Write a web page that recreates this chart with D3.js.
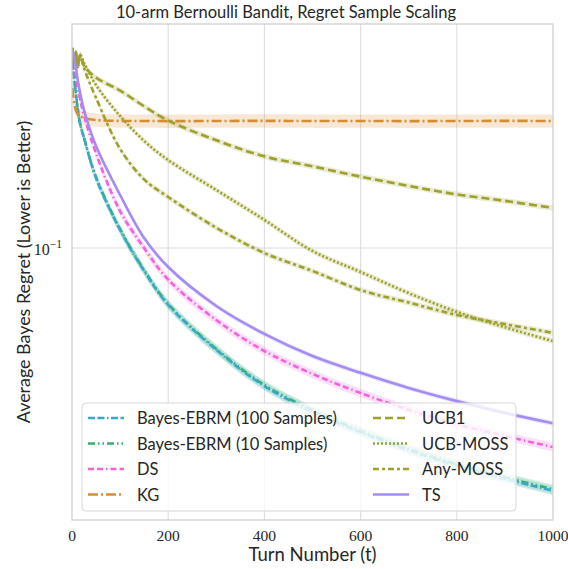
<!DOCTYPE html>
<html>
<head>
<meta charset="utf-8">
<script src="https://cdn.jsdelivr.net/npm/d3@7"></script>
<style>
  body { margin: 0; background: #fff; }
  svg { display: block; }
  .sans { font-family: Lato, "Open Sans", sans-serif; fill: #262626; }
  .serif { font-family: "Liberation Serif", "DejaVu Serif", serif; fill: #262626; }
</style>
</head>
<body>
<svg id="chart"></svg>
<script>
const turns = [1, 4, 8, 12, 17, 25, 50, 100, 150, 200, 300, 400, 500, 600, 700, 800, 900, 1000];

const ebrm100 = [0.372, 0.335, 0.299, 0.267, 0.240, 0.2175, 0.1639, 0.1136, 0.0850, 0.0669, 0.0487, 0.0377, 0.0315, 0.0272, 0.0240, 0.0215, 0.0196, 0.0180];
const ebrm10  = [0.370, 0.333, 0.298, 0.266, 0.240, 0.218, 0.165, 0.1142, 0.0855, 0.0673, 0.0490, 0.0380, 0.0318, 0.0275, 0.0242, 0.0217, 0.0198, 0.0182];
const ds      = [0.405, 0.372, 0.337, 0.3096, 0.2844, 0.2549, 0.1949, 0.1298, 0.100, 0.0800, 0.0601, 0.0483, 0.0411, 0.0359, 0.0319, 0.0288, 0.0265, 0.0245];
const kg      = [0.3096, 0.2805, 0.265, 0.2576, 0.2536, 0.2504, 0.2469, 0.2453, 0.2453, 0.2450, 0.2452, 0.2455, 0.2451, 0.2453, 0.2450, 0.2452, 0.2454, 0.2452];
const ucb1    = [0.411, 0.367, 0.399, 0.359, 0.391, 0.362, 0.333, 0.304, 0.272, 0.246, 0.214, 0.191, 0.178, 0.1655, 0.155, 0.146, 0.1395, 0.1327];
const ucbMoss = [0.411, 0.367, 0.399, 0.359, 0.391, 0.370, 0.316, 0.254, 0.213, 0.186, 0.1506, 0.1219, 0.0979, 0.0844, 0.0727, 0.0637, 0.0571, 0.0518];
const anyMoss = [0.411, 0.367, 0.399, 0.359, 0.391, 0.356, 0.2885, 0.2014, 0.1623, 0.1433, 0.1154, 0.0965, 0.0850, 0.0743, 0.0680, 0.0623, 0.0584, 0.0549];
const ts      = [0.405, 0.3855, 0.359, 0.3275, 0.2988, 0.265, 0.2055, 0.1454, 0.1073, 0.0874, 0.0664, 0.0545, 0.0466, 0.0414, 0.0372, 0.0339, 0.0312, 0.0290];

const xTicks = [0, 200, 400, 600, 800, 1000];
const yTicks = [0.1];

const series = [
  { name: "Bayes-EBRM (100 Samples)", values: ebrm100, color: "#38a9c5", dash: "7,2.5,7,2.5,1.5,2.5", spread: 0.032 },
  { name: "Bayes-EBRM (10 Samples)",  values: ebrm10,  color: "#33b070", dash: "7,3,1.5,3,1.5,3",      spread: 0.032 },
  { name: "DS",                       values: ds,      color: "#f561dd", dash: "6,3,6,3,1.5,3",        spread: 0.03 },
  { name: "KG",                       values: kg,      color: "#d58c32", dash: "10,3,2,3",             spread: 0.047 },
  { name: "UCB1",                     values: ucb1,    color: "#9da02c", dash: "8,4",                  spread: 0.02 },
  { name: "UCB-MOSS",                 values: ucbMoss, color: "#9da02c", dash: "2,2",                  spread: 0.02 },
  { name: "Any-MOSS",                 values: anyMoss, color: "#9da02c", dash: "6,3,3,3",              spread: 0.02 },
  { name: "TS",                       values: ts,      color: "#a48cf4", dash: null,                   spread: 0.018 }
];
// draw the 10-sample run under the 100-sample one, as in the original
const drawOrder = [1, 0, 2, 3, 4, 5, 6, 7];

const width = 568, height = 569;
const margin = { top: 24, right: 15, bottom: 49, left: 72 };

const svg = d3.select("#chart")
  .attr("width", width)
  .attr("height", height);

const x = d3.scaleLinear().domain([0, 1000]).range([margin.left, width - margin.right]);
const y = d3.scaleLog().domain([0.01464, 0.4865]).range([height - margin.bottom, margin.top]);

// grid
const grid = svg.append("g");
grid.selectAll(".gx").data(xTicks.slice(1, -1)).enter().append("line")
  .attr("x1", d => x(d)).attr("x2", d => x(d))
  .attr("y1", margin.top).attr("y2", height - margin.bottom)
  .attr("stroke", "#dedede").attr("stroke-width", 1.1);
grid.selectAll(".gy").data(yTicks).enter().append("line")
  .attr("x1", margin.left).attr("x2", width - margin.right)
  .attr("y1", d => y(d)).attr("y2", d => y(d))
  .attr("stroke", "#dedede").attr("stroke-width", 1.1);

svg.append("clipPath").attr("id", "clip").append("rect")
  .attr("x", margin.left).attr("y", margin.top)
  .attr("width", width - margin.left - margin.right)
  .attr("height", height - margin.top - margin.bottom);

const plot = svg.append("g").attr("clip-path", "url(#clip)");

const curve = d3.curveCatmullRom.alpha(0.5);

const area = d3.area()
  .x(d => x(d.t))
  .y0(d => y(d.v * (1 - d.s)))
  .y1(d => y(d.v * (1 + d.s)))
  .curve(curve);

const line = d3.line()
  .x(d => x(d.t))
  .y(d => y(d.v))
  .curve(curve);

drawOrder.forEach(i => {
  const s = series[i];
  const pts = turns.map((t, j) => ({ t: t, v: s.values[j], s: s.spread }));
  plot.append("path")
    .attr("d", area(pts))
    .attr("fill", s.color)
    .attr("fill-opacity", 0.2);
});

drawOrder.forEach(i => {
  const s = series[i];
  const pts = turns.map((t, j) => ({ t: t, v: s.values[j] }));
  plot.append("path")
    .attr("d", line(pts))
    .attr("fill", "none")
    .attr("stroke", s.color)
    .attr("stroke-width", 2.6)
    .attr("stroke-dasharray", s.dash);
});

// frame
svg.append("rect")
  .attr("x", margin.left).attr("y", margin.top)
  .attr("width", width - margin.left - margin.right)
  .attr("height", height - margin.top - margin.bottom)
  .attr("fill", "none").attr("stroke", "#cccccc").attr("stroke-width", 1.2);

// x tick labels
svg.selectAll(".xt").data(xTicks).enter().append("text")
  .attr("class", "serif")
  .attr("x", d => x(d)).attr("y", height - margin.bottom + 21)
  .attr("text-anchor", "middle")
  .style("font-size", "15.5px")
  .text(d => d);

// y tick label 10^-1
const yl = svg.selectAll(".yt").data(yTicks).enter().append("text")
  .attr("class", "serif")
  .attr("x", margin.left - 10).attr("y", d => y(d) + 7)
  .attr("text-anchor", "end")
  .style("font-size", "16px");
yl.append("tspan").text("10");
yl.append("tspan").attr("dy", -7).style("font-size", "11.5px").text("\u22121");

// title and axis labels
svg.append("text").attr("class", "sans")
  .attr("x", 286).attr("y", 18)
  .attr("text-anchor", "middle")
  .style("font-size", "16.5px")
  .text("10-arm Bernoulli Bandit, Regret Sample Scaling");

svg.append("text").attr("class", "sans")
  .attr("x", (margin.left + width - margin.right) / 2).attr("y", height - 8)
  .attr("text-anchor", "middle")
  .style("font-size", "18.5px")
  .text("Turn Number (t)");

svg.append("text").attr("class", "sans")
  .attr("transform", `translate(30,${(margin.top + height - margin.bottom) / 2}) rotate(-90)`)
  .attr("text-anchor", "middle")
  .style("font-size", "17.9px")
  .text("Average Bayes Regret (Lower is Better)");

// legend
const legend = svg.append("g").attr("transform", "translate(82,403)");
legend.append("rect")
  .attr("width", 434).attr("height", 108)
  .attr("rx", 4)
  .attr("fill", "#fff").attr("fill-opacity", 0.8)
  .attr("stroke", "#d6d6d6").attr("stroke-width", 1);

series.forEach((s, i) => {
  const col = Math.floor(i / 4), row = i % 4;
  const g = legend.append("g")
    .attr("transform", `translate(${col === 0 ? 6 : 291},${15 + row * 25.5})`);
  g.append("line")
    .attr("x1", 0).attr("x2", 36)
    .attr("stroke", s.color).attr("stroke-width", 2.6)
    .attr("stroke-dasharray", s.dash);
  g.append("text").attr("class", "sans")
    .attr("x", 49).attr("y", 6)
    .style("font-size", "16.5px")
    .text(s.name);
});
</script>
</body>
</html>
